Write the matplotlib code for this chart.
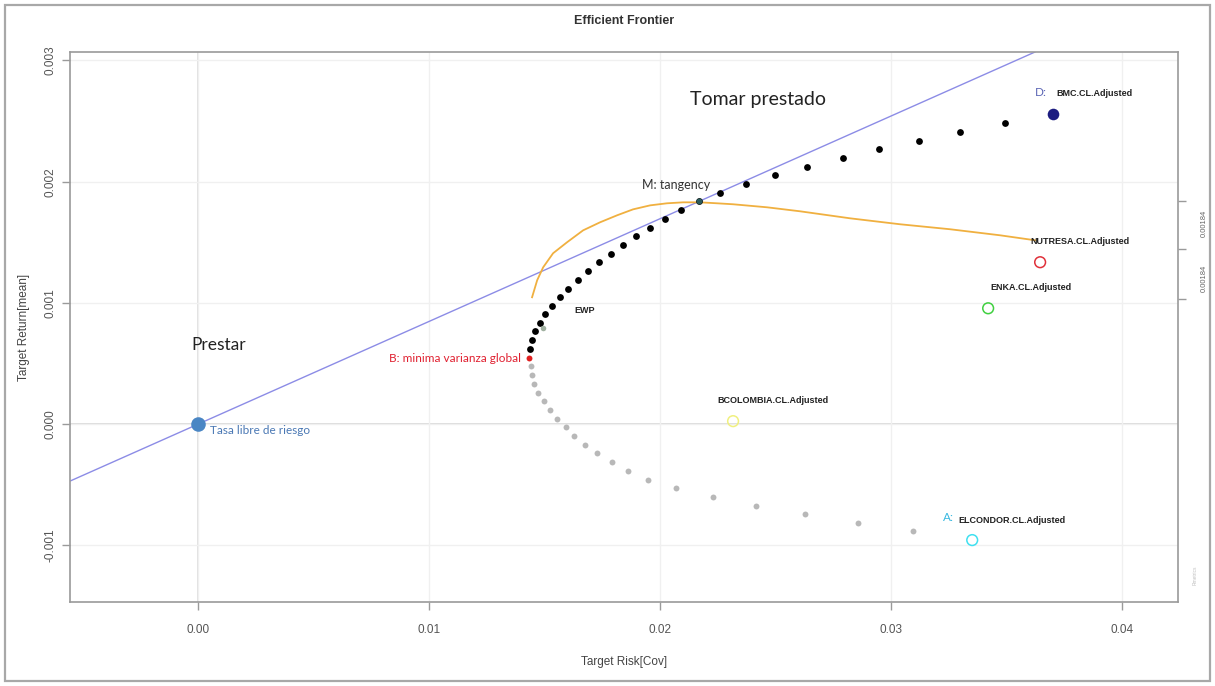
import matplotlib
matplotlib.use("Agg")
import matplotlib.pyplot as plt
from matplotlib.patches import Rectangle

# efficient part of the frontier (risk, return)
eff_risk = [0.01437, 0.01446, 0.01459, 0.01481, 0.01502, 0.01532, 0.01567, 0.01602,
            0.01645, 0.01688, 0.01736, 0.01788, 0.01840, 0.01896, 0.01957, 0.02022,
            0.02091, 0.02169, 0.02260, 0.02372, 0.02498, 0.02636, 0.02792, 0.02948,
            0.03121, 0.03299, 0.03494]
eff_ret = [0.000618, 0.000692, 0.000767, 0.000833, 0.000907, 0.000973, 0.001047, 0.001113,
           0.001187, 0.001261, 0.001336, 0.001401, 0.001476, 0.001550, 0.001616, 0.001690,
           0.001764, 0.001838, 0.001904, 0.001979, 0.002053, 0.002119, 0.002193, 0.002267,
           0.002333, 0.002407, 0.002481]

# lower (inefficient) part of the frontier
ineff_risk = [0.01442, 0.01446, 0.01455, 0.01472, 0.01498, 0.01524, 0.01554, 0.01593,
              0.01628, 0.01675, 0.01727, 0.01792, 0.01861, 0.01948, 0.02069, 0.02229,
              0.02416, 0.02628, 0.02857, 0.03095]
ineff_ret = [0.000478, 0.000404, 0.000330, 0.000256, 0.000190, 0.000115, 0.000041, -0.000025,
             -0.000099, -0.000173, -0.000239, -0.000313, -0.000387, -0.000462, -0.000528,
             -0.000602, -0.000676, -0.000742, -0.000816, -0.000882]

mvp = (0.01433, 0.000544)
tangency = (0.02169, 0.001838)
ewp = (0.01494, 0.000791)
riskfree = (0.0, 0.0)

# Sharpe ratio curve, drawn on the return scale
sharpe_risk = [0.01446, 0.01468, 0.01494, 0.01537, 0.01597, 0.01667, 0.01740, 0.01814,
               0.01883, 0.01957, 0.02030, 0.02100, 0.02173, 0.02247, 0.02316, 0.02463,
               0.02606, 0.02823, 0.03039, 0.03255, 0.03472, 0.03623]
sharpe_scaled = [0.001047, 0.001187, 0.001294, 0.001410, 0.001500, 0.001599, 0.001665,
                 0.001723, 0.001772, 0.001805, 0.001822, 0.001830, 0.001830, 0.001822,
                 0.001814, 0.001789, 0.001756, 0.001698, 0.001649, 0.001608, 0.001558,
                 0.001517]

assets = ["BMC.CL.Adjusted", "NUTRESA.CL.Adjusted", "ENKA.CL.Adjusted",
          "BCOLOMBIA.CL.Adjusted", "ELCONDOR.CL.Adjusted"]
asset_risk = [0.03701, 0.03645, 0.03420, 0.02316, 0.03351]
asset_ret = [0.002556, 0.001336, 0.000956, 0.000025, -0.000956]
asset_colors = ["#1c1c80", "#e0303a", "#40d040", "#f0f080", "#40e0f0"]

x_ticks = [0.00, 0.01, 0.02, 0.03, 0.04]
y_ticks = [-0.001, 0.000, 0.001, 0.002, 0.003]
sharpe_ticks = [0.001838, 0.001442, 0.001030]

plt.rcParams["font.family"] = ["Liberation Sans", "DejaVu Sans"]

fig = plt.figure(figsize=(12.15, 6.86), dpi=100)
fig.patches.append(Rectangle((0.004, 0.007), 0.992, 0.986, transform=fig.transFigure,
                             fill=False, edgecolor="#a8a8a8", linewidth=1.6))
ax = fig.add_axes([0.0576, 0.1224, 0.912, 0.8018])
ax.set_xlim(-0.00554, 0.04242)
ax.set_ylim(-0.001467, 0.00307)

for s in ax.spines.values():
    s.set_color("#9a9a9a")
    s.set_linewidth(1.2)

ax.set_xticks(x_ticks)
ax.set_xticklabels(["%.2f" % v for v in x_ticks])
ax.set_yticks(y_ticks)
ax.set_yticklabels(["%.3f" % v for v in y_ticks], rotation=90, va="center")
ax.tick_params(colors="#9a9a9a", labelcolor="#555555", labelsize=8.5, length=6, width=1)
ax.tick_params(axis="x", pad=10)
ax.tick_params(axis="y", pad=4)
ax.grid(True, color="#f0f0f0", linewidth=1)
ax.axhline(0, color="#d4d4d4", linewidth=1.2, zorder=1)
ax.axvline(0, color="#e0e0e0", linewidth=1.4, zorder=1)

ax.set_title("Efficient Frontier", fontsize=9, fontweight="bold", color="#333333", pad=20)
ax.set_xlabel("Target Risk[Cov]", fontsize=8.5, color="#444444", labelpad=14)
ax.set_ylabel("Target Return[mean]", fontsize=8.5, color="#444444", labelpad=10)

# capital market line from the risk-free rate through the tangency portfolio
slope = (tangency[1] - riskfree[1]) / (tangency[0] - riskfree[0])
ax.axline(riskfree, slope=slope, color="#8c8ce6", linewidth=1, zorder=2)

ax.plot(sharpe_risk, sharpe_scaled, color="#f0b040", linewidth=1.3, zorder=2)

ax.scatter(ineff_risk, ineff_ret, s=18, color="#b8b8b8", zorder=3, linewidths=0)
ax.scatter(eff_risk, eff_ret, s=24, color="black", zorder=3, linewidths=0)
ax.scatter([mvp[0]], [mvp[1]], s=18, color="#e02020", zorder=4, linewidths=0)
ax.scatter([tangency[0]], [tangency[1]], s=18, color="#2a5a5a", zorder=4, linewidths=0)
ax.scatter([ewp[0]], [ewp[1]], s=16, color="#a0b0a0", zorder=4, linewidths=0)
ax.scatter([riskfree[0]], [riskfree[1]], s=110, color="#4a86c4", zorder=4, linewidths=0)

for i, name in enumerate(assets):
    if i == 0:
        ax.scatter(asset_risk[i], asset_ret[i], s=70, color=asset_colors[i], zorder=4,
                   linewidths=0)
    else:
        ax.scatter(asset_risk[i], asset_ret[i], s=60, facecolor="none",
                   edgecolor=asset_colors[i], linewidths=1.1, zorder=4)

# asset labels
lab = dict(textcoords="offset pixels", fontsize=6.5, fontweight="bold", color="#222222",
           va="center", ha="left")
ax.annotate("BMC.CL.Adjusted", (asset_risk[0], asset_ret[0]), xytext=(3, 21), **lab)
ax.annotate("NUTRESA.CL.Adjusted", (asset_risk[1], asset_ret[1]), xytext=(-10, 21), **lab)
ax.annotate("ENKA.CL.Adjusted", (asset_risk[2], asset_ret[2]), xytext=(2, 21), **lab)
ax.annotate("BCOLOMBIA.CL.Adjusted", (asset_risk[3], asset_ret[3]), xytext=(-16, 21), **lab)
ax.annotate("ELCONDOR.CL.Adjusted", (asset_risk[4], asset_ret[4]), xytext=(-14, 20), **lab)
ax.annotate("EWP", ewp, xytext=(31, 18), **lab)
ax.annotate("D:", (asset_risk[0], asset_ret[0]), xytext=(-18, 22), textcoords="offset pixels",
            fontsize=8.5, color="#5a64b4", va="center", ha="left", family="Lato")
ax.annotate("A:", (asset_risk[4], asset_ret[4]), xytext=(-29, 23), textcoords="offset pixels",
            fontsize=8.5, color="#38b8e0", va="center", ha="left", family="Lato")

# text notes
ax.text(0.0213, 0.00268, "Tomar prestado", fontsize=14, family="Lato", color="#222222",
        va="center", ha="left")
ax.text(-0.0003, 0.00065, "Prestar", fontsize=12.5, family="Lato", color="#222222",
        va="center", ha="left")
ax.annotate("M: tangency", tangency, xytext=(-23, 16), textcoords="offset pixels",
            fontsize=9, family="Lato", color="#333333", va="center", ha="center")
ax.annotate("B: minima varianza global", mvp, xytext=(-8, 0), textcoords="offset pixels",
            fontsize=8.5, family="Lato", color="#e02030", va="center", ha="right")
ax.annotate("Tasa libre de riesgo", riskfree, xytext=(12, -6), textcoords="offset pixels",
            fontsize=8.5, family="Lato", color="#4a78b4", va="center", ha="left")

# secondary axis for the Sharpe ratio
ax2 = ax.twinx()
ax2.set_ylim(ax.get_ylim())
ax2.set_yticks(sharpe_ticks)
ax2.set_yticklabels([])
ax2.tick_params(colors="#9a9a9a", length=6, width=1)
for s in ax2.spines.values():
    s.set_visible(False)
ax2.text(1.024, 0.00166, "0.00184", transform=ax2.get_yaxis_transform(), rotation=90,
         fontsize=5.5, color="#666666", va="center", ha="center")
ax2.text(1.024, 0.00120, "0.00184", transform=ax2.get_yaxis_transform(), rotation=90,
         fontsize=5.5, color="#666666", va="center", ha="center")
ax2.text(1.015, -0.00125, "Rmetrics", transform=ax2.get_yaxis_transform(), rotation=90,
         fontsize=3.5, color="#c0c0c0", va="center", ha="center")

fig.savefig("out.png", dpi=100)
